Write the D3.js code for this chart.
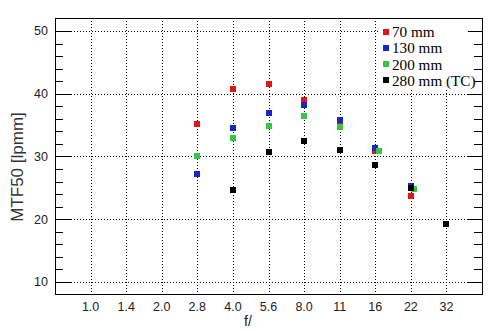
<!DOCTYPE html>
<html>
<head>
<meta charset="utf-8">
<script src="https://cdn.jsdelivr.net/npm/d3@7"></script>
<style>
  body { margin: 0; background: #fff; }
  svg { display: block; }
</style>
</head>
<body>
<svg id="mtf" width="494" height="331"></svg>
<script>
// f-stop ticks (nominal labels, true positions)
var fTicks = [1.0, 1.414, 2.0, 2.828, 4.0, 5.657, 8.0, 11.31, 16.0, 22.63, 32.0];
var fLabels = ["1.0", "1.4", "2.0", "2.8", "4.0", "5.6", "8.0", "11", "16", "22", "32"];
var yMajor = [10, 20, 30, 40, 50];

var seriesNames = ["70 mm", "130 mm", "200 mm", "280 mm (TC)"];
var seriesColors = ["#e31414", "#1428c8", "#32c846", "#000000"];

var f70 = [2.828, 4.0, 5.657, 8.0, 11.31, 16.0, 22.63];
var mtf70 = [35.1, 40.7, 41.5, 39.0, 35.4, 30.9, 23.7];
var f130 = [2.828, 4.0, 5.657, 8.0, 11.31, 16.0, 22.63];
var mtf130 = [27.2, 34.6, 37.0, 38.2, 35.8, 31.3, 25.3];
var f200 = [2.828, 4.0, 5.657, 8.0, 11.31, 16.6, 23.4];
var mtf200 = [30.0, 33.0, 34.8, 36.4, 34.7, 30.8, 24.8];
var f280 = [4.0, 5.657, 8.0, 11.31, 16.0, 22.63, 32.0];
var mtf280 = [24.6, 30.7, 32.5, 31.0, 28.6, 24.9, 19.2];

var seriesF = [f70, f130, f200, f280];
var seriesV = [mtf70, mtf130, mtf200, mtf280];

(function mtfChart() {
    var svg = d3.select("#mtf"),
        pLeft = 55, pRight = 482, pTop = 18, pBottom = 294;

    var x = d3.scaleLog().base(2).domain([Math.SQRT1_2, 32 * Math.SQRT2]).range([pLeft, pRight]);
    var y = d3.scaleLinear().domain([8.08, 52.07]).range([pBottom, pTop]);

    var minor = d3.range(10, 52, 2);

    // grid
    var grid = svg.append("g").attr("stroke", "#000").attr("stroke-width", 1)
        .attr("stroke-dasharray", "1,2").attr("shape-rendering", "crispEdges");
    grid.selectAll(".gy").data(yMajor).enter().append("line")
        .attr("x1", pLeft + 16).attr("x2", pRight - 14)
        .attr("y1", function (d) { return Math.round(y(d)) + 0.5; })
        .attr("y2", function (d) { return Math.round(y(d)) + 0.5; });
    grid.selectAll(".gx").data(fTicks).enter().append("line")
        .attr("y1", pTop).attr("y2", pBottom)
        .attr("x1", function (d) { return Math.round(x(d)) + 0.5; })
        .attr("x2", function (d) { return Math.round(x(d)) + 0.5; });

    // points
    seriesF.forEach(function (fs, s) {
        svg.append("g").selectAll("rect")
            .data(fs.map(function (f, i) { return [f, seriesV[s][i]]; }))
            .enter().append("rect")
            .attr("x", function (d) { return Math.round(x(d[0]) - 3); })
            .attr("y", function (d) { return Math.round(y(d[1]) - 3); })
            .attr("width", 6).attr("height", 6)
            .attr("fill", seriesColors[s]);
    });

    // legend
    var lg = svg.append("g");
    lg.append("rect").attr("x", 380).attr("y", pTop + 1).attr("width", pRight - 381).attr("height", 71).attr("fill", "#fff");
    seriesNames.forEach(function (n, i) {
        var cy = 31.5 + i * 16.3;
        lg.append("rect").attr("x", 383).attr("y", Math.round(cy - 3)).attr("width", 6).attr("height", 6).attr("fill", seriesColors[i]);
        lg.append("text").attr("x", 392).attr("y", cy + 5.5)
            .style("font-family", "Liberation Serif, serif").style("font-size", "15.2px")
            .attr("fill", "#000").text(n);
    });

    // frame and y ticks
    var ax = svg.append("g").attr("stroke", "#000").attr("shape-rendering", "crispEdges");
    ax.append("rect").attr("x", pLeft + 0.5).attr("y", pTop + 0.5)
        .attr("width", pRight - pLeft).attr("height", pBottom - pTop).attr("fill", "none");
    minor.forEach(function (v) {
        var major = v % 10 === 0;
        var yy = Math.round(y(v)) + 0.5;
        ax.append("line").attr("x1", pLeft).attr("x2", pLeft + (major ? 16 : 8)).attr("y1", yy).attr("y2", yy);
        ax.append("line").attr("x1", pRight).attr("x2", pRight - (major ? 14 : 8)).attr("y1", yy).attr("y2", yy);
    });

    // tick labels
    var lab = svg.append("g").style("font-family", "Liberation Sans, Arial, sans-serif").style("font-size", "12.5px").attr("fill", "#222");
    lab.selectAll(".yl").data(yMajor).enter().append("text")
        .attr("x", 48).attr("y", function (d) { return y(d) + 4.5; })
        .attr("text-anchor", "end").text(function (d) { return d; });
    lab.selectAll(".xl").data(fTicks).enter().append("text")
        .attr("x", function (d) { return x(d); }).attr("y", 311)
        .attr("text-anchor", "middle").text(function (d, i) { return fLabels[i]; });

    svg.append("text").attr("x", 248).attr("y", 326).attr("text-anchor", "middle")
        .style("font-family", "Liberation Sans, Arial, sans-serif").style("font-size", "14px").attr("fill", "#222").text("f/");
    svg.append("text").attr("transform", "translate(23,167) rotate(-90)").attr("text-anchor", "middle")
        .style("font-family", "Liberation Sans, Arial, sans-serif").style("font-size", "17px").attr("fill", "#333").text("MTF50 [lpmm]");
}());
</script>
</body>
</html>
